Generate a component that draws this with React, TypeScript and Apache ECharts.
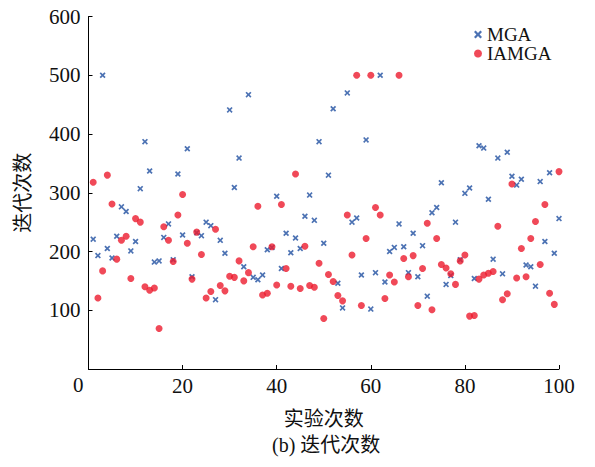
import React, { useEffect, useRef } from "react";
import * as echarts from "echarts";

const experiments: number[] = Array.from({ length: 100 }, (_, k) => k + 1);

const mgaValues: number[] = [
  221, 193, 500, 205, 189, 226, 276, 268, 201, 217,
  307, 387, 337, 182, 184, 224, 247, 186, 332, 228,
  375, 157, 232, 227, 250, 244, 118, 219, 197, 441,
  309, 359, 174, 467, 156, 152, 160, 203, 207, 294,
  171, 231, 198, 223, 205, 260, 296, 253, 387, 214,
  330, 443, 146, 104, 470, 250, 257, 160, 390, 102,
  164, 500, 148, 200, 207, 247, 208, 164, 231, 157,
  210, 124, 266, 275, 317, 144, 159, 250, 186, 299,
  308, 154, 380, 376, 289, 187, 359, 162, 369, 328,
  313, 323, 177, 174, 141, 319, 217, 334, 197, 256,
];

const iamgaValues: number[] = [
  318, 121, 167, 330, 281, 187, 219, 226, 154, 256,
  250, 140, 134, 138, 69, 242, 219, 183, 262, 297,
  214, 153, 233, 195, 121, 132, 238, 142, 133, 158,
  156, 184, 150, 164, 208, 277, 126, 129, 208, 143,
  280, 171, 141, 332, 137, 209, 142, 139, 180, 86,
  161, 149, 125, 116, 262, 194, 500, 108, 222, 500,
  275, 262, 120, 160, 148, 500, 188, 157, 193, 108,
  171, 248, 101, 222, 178, 172, 162, 144, 184, 194,
  90, 91, 153, 160, 163, 166, 243, 118, 128, 315,
  155, 205, 157, 222, 251, 178, 280, 129, 110, 336,
];

const seriesNames: string[] = ["MGA", "IAMGA"];
const xAxisTitle = "实验次数";
const yAxisTitle = "迭代次数";
const caption = "(b) 迭代次数";

const SERIF = "'Liberation Serif', 'Times New Roman', 'Noto Sans CJK SC', serif";
const CROSS =
  "path://M2,0 L5,3 L8,0 L10,2 L7,5 L10,8 L8,10 L5,7 L2,10 L0,8 L3,5 L0,2 Z";

export default function App() {
  const ref = useRef<HTMLDivElement>(null);

  useEffect(() => {
    if (!ref.current) return;
    const chart = echarts.init(ref.current, undefined, { renderer: "svg" });
    const mgaData = experiments.map((e, k) => [e, mgaValues[k]]);
    const iamgaData = experiments.map((e, k) => [e, iamgaValues[k]]);

    chart.setOption({
      animation: false,
      backgroundColor: "#ffffff",
      textStyle: { fontFamily: SERIF },
      grid: { left: 88.5, right: 36, top: 16.5, bottom: 98, containLabel: false },
      legend: {
        data: seriesNames,
        orient: "vertical",
        left: 474,
        top: 25,
        padding: 0,
        itemWidth: 8,
        itemHeight: 8,
        itemGap: 0,
        itemTextGap: 10,
        textStyle: { fontFamily: SERIF, fontSize: 19, color: "#111", lineHeight: 19 },
      },
      xAxis: {
        type: "value",
        min: 0,
        max: 100,
        interval: 20,
        name: xAxisTitle,
        nameLocation: "middle",
        nameGap: 40,
        nameTextStyle: { fontFamily: SERIF, fontSize: 20, color: "#111" },
        axisLine: { show: true, lineStyle: { color: "#000", width: 1 } },
        axisTick: { show: true, inside: true, length: 4, lineStyle: { color: "#000" } },
        axisLabel: {
          fontFamily: SERIF,
          fontSize: 21,
          color: "#111",
          margin: 6,
          formatter: (v: number) => (v === 0 ? "" : String(v)),
        },
        splitLine: { show: false },
      },
      yAxis: {
        type: "value",
        min: 0,
        max: 600,
        interval: 100,
        name: yAxisTitle,
        nameLocation: "middle",
        nameGap: 56,
        nameRotate: 90,
        nameTextStyle: { fontFamily: SERIF, fontSize: 20, color: "#111" },
        axisLine: { show: true, lineStyle: { color: "#000", width: 1 } },
        axisTick: { show: true, inside: true, length: 4, lineStyle: { color: "#000" } },
        axisLabel: {
          fontFamily: SERIF,
          fontSize: 21,
          color: "#111",
          margin: 8,
          formatter: (v: number) => (v === 0 ? "" : String(v)),
        },
        splitLine: { show: false },
      },
      graphic: [
        {
          type: "text",
          left: 73,
          top: 374,
          style: { text: "0", font: `21px ${SERIF}`, fill: "#111" },
        },
        {
          type: "text",
          left: 272,
          top: 435,
          style: { text: caption, font: `20px ${SERIF}`, fill: "#111" },
        },
      ],
      series: [
        {
          name: seriesNames[0],
          type: "scatter",
          data: mgaData,
          symbol: CROSS,
          symbolSize: 6,
          itemStyle: { color: "#1f4fa0" },
          z: 2,
        },
        {
          name: seriesNames[1],
          type: "scatter",
          data: iamgaData,
          symbol: "circle",
          symbolSize: 7,
          itemStyle: { color: "#ec1c2e" },
          z: 3,
        },
      ],
    });
    return () => chart.dispose();
  }, []);

  return (
    <div
      ref={ref}
      style={{ position: "absolute", left: 0, top: 0, width: 595, height: 467 }}
    />
  );
}
